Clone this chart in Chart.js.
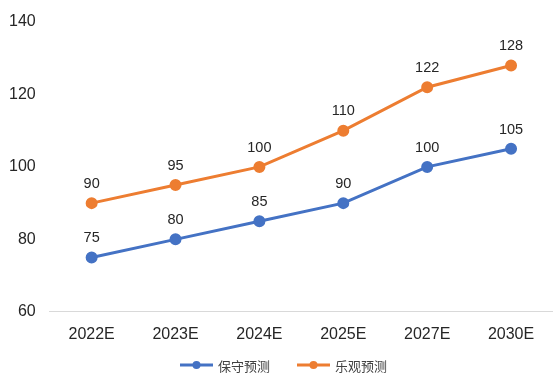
<!DOCTYPE html>
<html>
<head>
<meta charset="utf-8">
<script src="https://cdn.jsdelivr.net/npm/chart.js@4/dist/chart.umd.min.js"></script>
<style>
  html, body { margin: 0; padding: 0; background: #fff; }
  #wrap { width: 553px; height: 374px; position: relative; }
</style>
</head>
<body>
<div id="wrap"><canvas id="forecastChart"></canvas></div>
<script>
// 年份与两种预测数据
const years = ['2022E', '2023E', '2024E', '2025E', '2027E', '2030E'];
const conservative = [75, 80, 85, 90, 100, 105];
const optimistic = [90, 95, 100, 110, 122, 128];
const yTicks = [60, 80, 100, 120, 140];

const BLUE = '#4472C4';
const ORANGE = '#ED7D31';
const FONT = '"Liberation Sans", Arial, sans-serif';

// 数据点上方的数值标签
const valueLabels = {
    id: 'valueLabels',
    afterDatasetsDraw(chart) {
        const ctx = chart.ctx;
        ctx.save();
        ctx.font = '14.5px ' + FONT;
        ctx.fillStyle = '#262626';
        ctx.textAlign = 'center';
        ctx.textBaseline = 'bottom';
        chart.data.datasets.forEach((ds, i) => {
            chart.getDatasetMeta(i).data.forEach((pt, j) => {
                ctx.fillText(ds.data[j], pt.x, pt.y - 12);
            });
        });
        ctx.restore();
    }
};

// 底部图例：线段 + 圆点 + 文字
const lineLegend = {
    id: 'lineLegend',
    afterDraw(chart) {
        const ctx = chart.ctx;
        const y = 365;
        ctx.save();
        ctx.font = '13px "Noto Sans CJK SC", sans-serif';
        ctx.textBaseline = 'middle';
        let x = 180;
        chart.data.datasets.forEach(ds => {
            ctx.strokeStyle = ds.borderColor;
            ctx.lineWidth = 3;
            ctx.beginPath();
            ctx.moveTo(x, y);
            ctx.lineTo(x + 33, y);
            ctx.stroke();
            ctx.fillStyle = ds.borderColor;
            ctx.beginPath();
            ctx.arc(x + 16.5, y, 4, 0, Math.PI * 2);
            ctx.fill();
            ctx.fillStyle = '#404040';
            ctx.fillText(ds.label, x + 38, y + 1);
            x += 117;
        });
        ctx.restore();
    }
};

new Chart(document.getElementById('forecastChart'), {
    type: 'line',
    data: {
        labels: years,
        datasets: [{
            label: '保守预测',
            data: conservative,
            borderColor: BLUE,
            backgroundColor: BLUE,
            borderWidth: 3,
            pointRadius: 4.5,
            pointHoverRadius: 4.5,
            tension: 0
        }, {
            label: '乐观预测',
            data: optimistic,
            borderColor: ORANGE,
            backgroundColor: ORANGE,
            borderWidth: 3,
            pointRadius: 4.5,
            pointHoverRadius: 4.5,
            tension: 0
        }]
    },
    options: {
        responsive: true,
        maintainAspectRatio: false,
        animation: false,
        layout: {
            autoPadding: false,
            padding: { top: 22, right: 0, left: 3, bottom: 25 }
        },
        plugins: {
            legend: { display: false },
            tooltip: { enabled: false }
        },
        scales: {
            x: {
                offset: true,
                grid: { display: false },
                border: { display: true, color: '#d9d9d9', width: 1 },
                ticks: { color: '#262626', font: { family: FONT, size: 16 }, padding: 5 },
                afterFit(scale) {
                    scale.paddingLeft = 0;
                    scale.paddingRight = 0;
                }
            },
            y: {
                min: 60,
                max: 140,
                afterBuildTicks(axis) {
                    axis.ticks = yTicks.map(v => ({ value: v }));
                },
                grid: { display: false },
                border: { display: false },
                ticks: { color: '#262626', font: { family: FONT, size: 16 }, padding: 6 }
            }
        }
    },
    plugins: [valueLabels, lineLegend]
});
</script>
</body>
</html>
